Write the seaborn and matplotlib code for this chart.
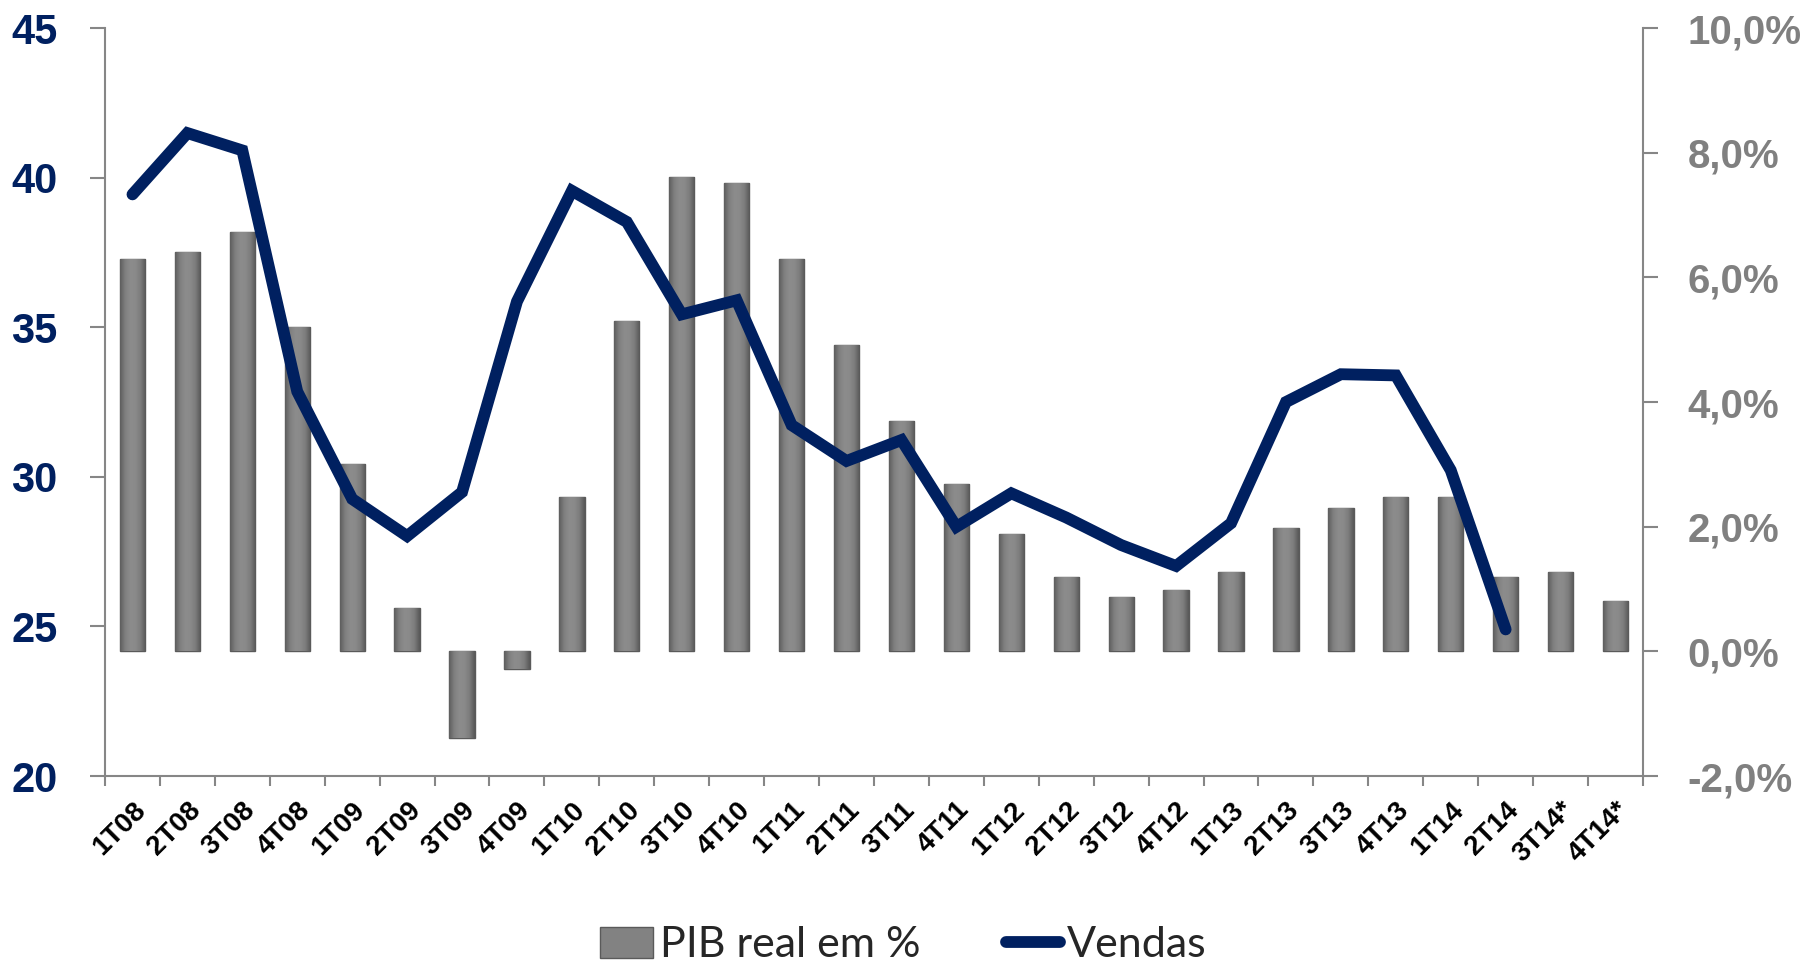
import numpy as np
import pandas as pd
import matplotlib
matplotlib.use("Agg")
import matplotlib.pyplot as plt
import seaborn as sns
from matplotlib.colors import LinearSegmentedColormap

quarters = ["1T08", "2T08", "3T08", "4T08", "1T09", "2T09", "3T09", "4T09",
            "1T10", "2T10", "3T10", "4T10", "1T11", "2T11", "3T11", "4T11",
            "1T12", "2T12", "3T12", "4T12", "1T13", "2T13", "3T13", "4T13",
            "1T14", "2T14", "3T14*", "4T14*"]
pib_real = [6.30, 6.41, 6.72, 5.20, 3.00, 0.69, -1.39, -0.28,
            2.48, 5.30, 7.61, 7.52, 6.30, 4.91, 3.69, 2.69,
            1.89, 1.19, 0.87, 0.98, 1.28, 1.98, 2.30, 2.48,
            2.48, 1.19, 1.28, 0.80]
vendas = [39.44, 41.49, 40.91, 32.85, 29.26, 28.02, 29.49, 35.86,
          39.56, 38.52, 35.43, 35.90, 31.73, 30.53, 31.23, 28.33,
          29.45, 28.64, 27.72, 27.02, 28.45, 32.50, 33.43, 33.39,
          30.22, 24.90]
left_ticks = [20, 25, 30, 35, 40, 45]
right_ticks = [-2, 0, 2, 4, 6, 8, 10]

NAVY = "#002060"
GRAY_AX = "#868686"
BAR = "#828282"
BOLD_FONT = ["Liberation Sans", "DejaVu Sans"]

sns.set_theme(style="white")
plt.rcParams["font.family"] = ["Lato", "DejaVu Sans"]

fig = plt.figure(figsize=(18.06, 9.77), dpi=100)
ax = fig.add_axes([0.05814, 0.2057, 0.8516, 0.7656])

df = pd.DataFrame({"q": quarters, "pib": pib_real})
sns.barplot(data=df, x="q", y="pib", ax=ax, color=BAR, width=0.46,
            edgecolor="#5a5a5a", linewidth=1.0, saturation=1, zorder=2)

# horizontal shading on each bar
cmap = LinearSegmentedColormap.from_list(
    "bev", ["#5e5e5e", "#808080", "#8c8c8c", "#8a8a8a", "#7c7c7c", "#575757"])
grad = np.linspace(0, 1, 64).reshape(1, -1)
for p in list(ax.patches):
    x0, y0 = p.get_x(), p.get_y()
    w, h = p.get_width(), p.get_height()
    im = ax.imshow(grad, cmap=cmap, aspect="auto", zorder=2.5,
                   extent=(x0, x0 + w, y0, y0 + h), interpolation="bicubic")
    im.set_clip_path(p)

n = len(quarters)
ax.set_xlim(-0.5, n - 0.5)
ax.set_ylim(right_ticks[0], right_ticks[-1])

ax2 = ax.twinx()
dfl = pd.DataFrame({"pos": np.arange(len(vendas)), "v": vendas})
sns.lineplot(data=dfl, x="pos", y="v", ax=ax2, color=NAVY,
             solid_capstyle="round", solid_joinstyle="miter", zorder=5)
ax2.lines[0].set_linewidth(8.5)
ax2.set_ylim(left_ticks[0], left_ticks[-1])
ax2.set_xlim(-0.5, n - 0.5)

# right axis: PIB (%)
ax.yaxis.tick_right()
ax.yaxis.set_label_position("right")
ax.set_yticks(right_ticks)
ax.set_yticklabels([f"{v:.1f}%".replace(".", ",") for v in right_ticks],
                   fontweight="bold", fontsize=29, color="#808080",
                   family=BOLD_FONT)
ax.tick_params(axis="y", length=11, width=1.5, color=GRAY_AX, pad=21,
               direction="out", left=False, right=True,
               labelleft=False, labelright=True)

# left axis: Vendas
ax2.yaxis.tick_left()
ax2.yaxis.set_label_position("left")
ax2.set_yticks(left_ticks)
ax2.set_yticklabels([str(v) for v in left_ticks], fontweight="bold",
                    fontsize=30, color=NAVY, family=BOLD_FONT)
ax2.tick_params(axis="y", length=11, width=1.5, color=GRAY_AX, pad=23,
                direction="out", left=True, right=False,
                labelleft=True, labelright=False)

ax.set_xticks(range(n))
ax.set_xticklabels(quarters, rotation=45, ha="right", rotation_mode="anchor",
                   fontweight="bold", fontsize=20, color="black",
                   family=BOLD_FONT)
ax.tick_params(axis="x", which="major", length=0, pad=15)
ax.set_xticks(np.arange(-0.5, n, 1), minor=True)
ax.tick_params(axis="x", which="minor", length=7, width=1.5, color=GRAY_AX,
               direction="out", bottom=True)
ax.set_xlabel("")
ax.set_ylabel("")
ax2.set_xlabel("")
ax2.set_ylabel("")
for s in ["left", "right", "bottom"]:
    ax.spines[s].set_color(GRAY_AX)
    ax.spines[s].set_linewidth(1.5)
ax.spines["top"].set_visible(False)
for s in ax2.spines.values():
    s.set_visible(False)

handles = [ax.patches[0], ax2.lines[0]]
fig.legend(handles, ["PIB real em %", "Vendas"], loc="lower center",
           bbox_to_anchor=(0.5, -0.018), ncol=2, frameon=False, fontsize=31,
           handlelength=1.25, handleheight=0.75, handletextpad=0.15,
           columnspacing=2.0, borderpad=0.2)

fig.savefig("out.png", dpi=100)
